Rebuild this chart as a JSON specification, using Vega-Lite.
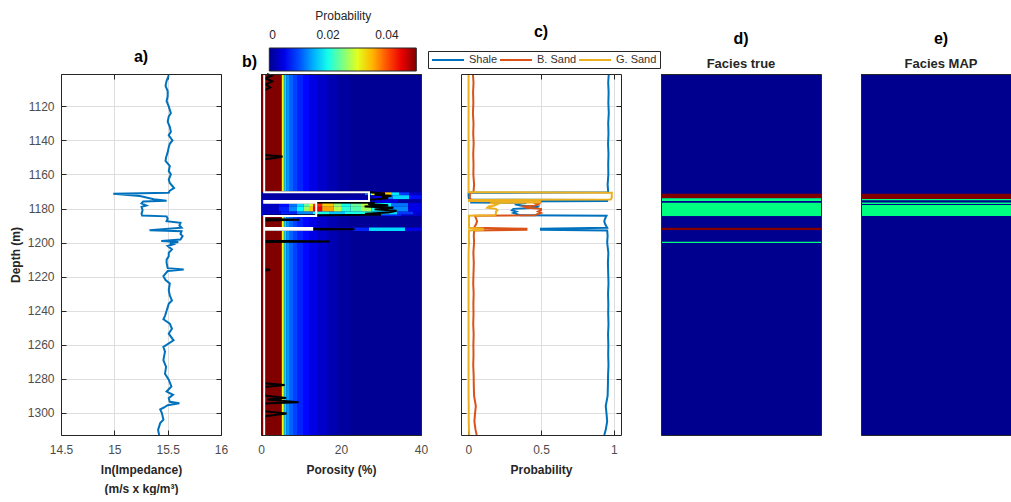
{
  "$schema": "https://vega.github.io/schema/vega-lite/v6.json",
  "padding": {"top": 10, "left": 8, "right": 0, "bottom": 0},
  "background": "white",
  "spacing": 40,
  "bounds": "flush",
  "config": {
    "font": "Liberation Sans",
    "view": {"stroke": "#262626", "strokeWidth": 1},
    "style": {"cell": {"strokeForeground": true}},
    "axis": {"labelFont": "Liberation Sans", "labelFontSize": 12, "labelColor": "#4d4d4d", "titleFont": "Liberation Sans", "titleFontSize": 12, "titleFontWeight": "bold", "titleColor": "#262626", "tickColor": "#262626", "tickSize": -5, "domain": false, "gridColor": "#dedede", "gridWidth": 1},
    "axisX": {"labelPadding": 14, "format": "~g"},
    "axisY": {"labelPadding": 12, "format": "d"},
    "title": {"font": "Liberation Sans", "fontSize": 16, "fontWeight": "bold", "color": "#000000", "subtitleFont": "Liberation Sans", "subtitleFontSize": 13, "subtitleFontWeight": "bold", "subtitleColor": "#262626", "frame": "group", "anchor": "middle"},
    "legend": {"labelFont": "Liberation Sans", "titleFont": "Liberation Sans"}
  },
  "resolve": {"scale": {"color": "independent"}, "legend": {"color": "independent"}},
  "datasets": {
    "imp": [
      {"depth":1101.8,"imp":15.51},{"depth":1105,"imp":15.49},{"depth":1108,"imp":15.48},{"depth":1111,"imp":15.5},{"depth":1114,"imp":15.5},{"depth":1117,"imp":15.49},{"depth":1120,"imp":15.51},{"depth":1122,"imp":15.52},{"depth":1124,"imp":15.53},{"depth":1126,"imp":15.51},{"depth":1129,"imp":15.5},{"depth":1132,"imp":15.52},{"depth":1135,"imp":15.53},{"depth":1137,"imp":15.51},{"depth":1140,"imp":15.545},{"depth":1142,"imp":15.52},{"depth":1144,"imp":15.51},{"depth":1147,"imp":15.5},{"depth":1150,"imp":15.485},{"depth":1152,"imp":15.48},{"depth":1155,"imp":15.52},{"depth":1158,"imp":15.51},{"depth":1160,"imp":15.53},{"depth":1163,"imp":15.51},{"depth":1165,"imp":15.52},{"depth":1168,"imp":15.56},{"depth":1169.5,"imp":15.52},{"depth":1170.7,"imp":15.51},{"depth":1171.3,"imp":14.99},{"depth":1172.6,"imp":15.24},{"depth":1174.5,"imp":15.37},{"depth":1175.5,"imp":15.49},{"depth":1175.9,"imp":15.27},{"depth":1177,"imp":15.255},{"depth":1178.2,"imp":15.3},{"depth":1179,"imp":15.255},{"depth":1181,"imp":15.265},{"depth":1183,"imp":15.255},{"depth":1184.1,"imp":15.26},{"depth":1184.6,"imp":15.49},{"depth":1186,"imp":15.5},{"depth":1187.4,"imp":15.49},{"depth":1188.4,"imp":15.62},{"depth":1190,"imp":15.61},{"depth":1191.3,"imp":15.63},{"depth":1192.7,"imp":15.33},{"depth":1193.3,"imp":15.63},{"depth":1195,"imp":15.62},{"depth":1196.2,"imp":15.64},{"depth":1198.2,"imp":15.62},{"depth":1199.1,"imp":15.44},{"depth":1199.7,"imp":15.6},{"depth":1200.5,"imp":15.52},{"depth":1201.1,"imp":15.55},{"depth":1202,"imp":15.5},{"depth":1204,"imp":15.54},{"depth":1206,"imp":15.51},{"depth":1208,"imp":15.51},{"depth":1210,"imp":15.49},{"depth":1212,"imp":15.49},{"depth":1215,"imp":15.5},{"depth":1215.8,"imp":15.65},{"depth":1216.7,"imp":15.5},{"depth":1219.7,"imp":15.46},{"depth":1222,"imp":15.48},{"depth":1224,"imp":15.52},{"depth":1228,"imp":15.51},{"depth":1231,"imp":15.52},{"depth":1234,"imp":15.54},{"depth":1236,"imp":15.51},{"depth":1240,"imp":15.49},{"depth":1243,"imp":15.475},{"depth":1245,"imp":15.46},{"depth":1247.6,"imp":15.52},{"depth":1250.6,"imp":15.54},{"depth":1253.5,"imp":15.51},{"depth":1257.4,"imp":15.555},{"depth":1261.3,"imp":15.46},{"depth":1264,"imp":15.475},{"depth":1269,"imp":15.46},{"depth":1273,"imp":15.485},{"depth":1277,"imp":15.475},{"depth":1280.5,"imp":15.51},{"depth":1284.5,"imp":15.535},{"depth":1287.5,"imp":15.49},{"depth":1289.4,"imp":15.55},{"depth":1291.4,"imp":15.51},{"depth":1293.5,"imp":15.52},{"depth":1294.3,"imp":15.61},{"depth":1295.5,"imp":15.5},{"depth":1297,"imp":15.46},{"depth":1298,"imp":15.43},{"depth":1300,"imp":15.445},{"depth":1304,"imp":15.46},{"depth":1306,"imp":15.43},{"depth":1310,"imp":15.41},{"depth":1313,"imp":15.42}
    ],
    "heat": [
      {"p0":0,"p1":5.2,"d0":1101,"d1":1170.5,"v":0.06},{"p0":5.2,"p1":5.5,"d0":1101,"d1":1170.5,"v":0.031},{"p0":5.5,"p1":5.9,"d0":1101,"d1":1170.5,"v":0.022},{"p0":5.9,"p1":6.4,"d0":1101,"d1":1170.5,"v":0.017},{"p0":6.4,"p1":7,"d0":1101,"d1":1170.5,"v":0.0135},{"p0":7,"p1":8,"d0":1101,"d1":1170.5,"v":0.0112},{"p0":8,"p1":9,"d0":1101,"d1":1170.5,"v":0.0095},{"p0":9,"p1":10.5,"d0":1101,"d1":1170.5,"v":0.008},{"p0":10.5,"p1":12,"d0":1101,"d1":1170.5,"v":0.0066},{"p0":12,"p1":14,"d0":1101,"d1":1170.5,"v":0.0048},{"p0":14,"p1":16.5,"d0":1101,"d1":1170.5,"v":0.0033},{"p0":16.5,"p1":19,"d0":1101,"d1":1170.5,"v":0.002},{"p0":19,"p1":22,"d0":1101,"d1":1170.5,"v":0.001},{"p0":22,"p1":40,"d0":1101,"d1":1170.5,"v":0.0003},
      {"p0":0,"p1":26,"d0":1170.5,"d1":1172.2,"v":0.001},{"p0":26,"p1":27.5,"d0":1170.5,"d1":1172.2,"v":0.012},{"p0":27.5,"p1":29,"d0":1170.5,"d1":1172.2,"v":0.03},{"p0":29,"p1":31,"d0":1170.5,"d1":1172.2,"v":0.045},{"p0":31,"p1":32.5,"d0":1170.5,"d1":1172.2,"v":0.034},{"p0":32.5,"p1":34.5,"d0":1170.5,"d1":1172.2,"v":0.018},{"p0":34.5,"p1":37,"d0":1170.5,"d1":1172.2,"v":0.009},{"p0":37,"p1":40,"d0":1170.5,"d1":1172.2,"v":0.003},
      {"p0":0,"p1":28,"d0":1172.2,"d1":1174.6,"v":0.0012},{"p0":28,"p1":30,"d0":1172.2,"d1":1174.6,"v":0.005},{"p0":30,"p1":33,"d0":1172.2,"d1":1174.6,"v":0.012},{"p0":33,"p1":37,"d0":1172.2,"d1":1174.6,"v":0.017},{"p0":37,"p1":40,"d0":1172.2,"d1":1174.6,"v":0.007},
      {"p0":0,"p1":5.2,"d0":1174.6,"d1":1176.8,"v":0.003},{"p0":5.2,"p1":20,"d0":1174.6,"d1":1176.8,"v":0.0015},{"p0":20,"p1":34,"d0":1174.6,"d1":1176.8,"v":0.004},{"p0":34,"p1":40,"d0":1174.6,"d1":1176.8,"v":0.001},
      {"p0":0,"p1":4.5,"d0":1176.8,"d1":1179,"v":0.003},{"p0":4.5,"p1":7,"d0":1176.8,"d1":1179,"v":0.007},{"p0":7,"p1":9,"d0":1176.8,"d1":1179,"v":0.012},{"p0":9,"p1":10.7,"d0":1176.8,"d1":1179,"v":0.017},{"p0":10.7,"p1":12,"d0":1176.8,"d1":1179,"v":0.024},{"p0":12,"p1":13,"d0":1176.8,"d1":1179,"v":0.03},{"p0":13,"p1":15.3,"d0":1176.8,"d1":1179,"v":0.042},{"p0":15.3,"p1":18.2,"d0":1176.8,"d1":1179,"v":0.034},{"p0":18.2,"p1":20,"d0":1176.8,"d1":1179,"v":0.026},{"p0":20,"p1":22.4,"d0":1176.8,"d1":1179,"v":0.02},{"p0":22.4,"p1":25,"d0":1176.8,"d1":1179,"v":0.024},{"p0":25,"p1":27.6,"d0":1176.8,"d1":1179,"v":0.028},{"p0":27.6,"p1":32.6,"d0":1176.8,"d1":1179,"v":0.019},{"p0":32.6,"p1":36.8,"d0":1176.8,"d1":1179,"v":0.012},{"p0":36.8,"p1":40,"d0":1176.8,"d1":1179,"v":0.005},
      {"p0":0,"p1":4.5,"d0":1179,"d1":1181.8,"v":0.003},{"p0":4.5,"p1":7,"d0":1179,"d1":1181.8,"v":0.008},{"p0":7,"p1":9,"d0":1179,"d1":1181.8,"v":0.013},{"p0":9,"p1":10.7,"d0":1179,"d1":1181.8,"v":0.019},{"p0":10.7,"p1":12,"d0":1179,"d1":1181.8,"v":0.027},{"p0":12,"p1":13,"d0":1179,"d1":1181.8,"v":0.034},{"p0":13,"p1":15.3,"d0":1179,"d1":1181.8,"v":0.045},{"p0":15.3,"p1":18.2,"d0":1179,"d1":1181.8,"v":0.036},{"p0":18.2,"p1":20,"d0":1179,"d1":1181.8,"v":0.028},{"p0":20,"p1":22.4,"d0":1179,"d1":1181.8,"v":0.021},{"p0":22.4,"p1":25,"d0":1179,"d1":1181.8,"v":0.023},{"p0":25,"p1":27.6,"d0":1179,"d1":1181.8,"v":0.027},{"p0":27.6,"p1":32.6,"d0":1179,"d1":1181.8,"v":0.02},{"p0":32.6,"p1":36.8,"d0":1179,"d1":1181.8,"v":0.013},{"p0":36.8,"p1":40,"d0":1179,"d1":1181.8,"v":0.005},
      {"p0":0,"p1":5,"d0":1181.8,"d1":1183.6,"v":0.003},{"p0":5,"p1":9,"d0":1181.8,"d1":1183.6,"v":0.008},{"p0":9,"p1":13,"d0":1181.8,"d1":1183.6,"v":0.013},{"p0":13,"p1":17,"d0":1181.8,"d1":1183.6,"v":0.02},{"p0":17,"p1":21,"d0":1181.8,"d1":1183.6,"v":0.016},{"p0":21,"p1":28,"d0":1181.8,"d1":1183.6,"v":0.02},{"p0":28,"p1":34,"d0":1181.8,"d1":1183.6,"v":0.017},{"p0":34,"p1":38,"d0":1181.8,"d1":1183.6,"v":0.009},{"p0":38,"p1":40,"d0":1181.8,"d1":1183.6,"v":0.004},
      {"p0":0,"p1":10,"d0":1183.6,"d1":1184.6,"v":0.007},{"p0":10,"p1":25,"d0":1183.6,"d1":1184.6,"v":0.01},{"p0":25,"p1":35,"d0":1183.6,"d1":1184.6,"v":0.008},{"p0":35,"p1":40,"d0":1183.6,"d1":1184.6,"v":0.003},
      {"p0":0,"p1":5.2,"d0":1184.6,"d1":1191.2,"v":0.06},{"p0":5.2,"p1":5.5,"d0":1184.6,"d1":1191.2,"v":0.031},{"p0":5.5,"p1":5.9,"d0":1184.6,"d1":1191.2,"v":0.022},{"p0":5.9,"p1":6.4,"d0":1184.6,"d1":1191.2,"v":0.017},{"p0":6.4,"p1":7,"d0":1184.6,"d1":1191.2,"v":0.0135},{"p0":7,"p1":8,"d0":1184.6,"d1":1191.2,"v":0.0112},{"p0":8,"p1":9,"d0":1184.6,"d1":1191.2,"v":0.0095},{"p0":9,"p1":10.5,"d0":1184.6,"d1":1191.2,"v":0.008},{"p0":10.5,"p1":12,"d0":1184.6,"d1":1191.2,"v":0.0066},{"p0":12,"p1":14,"d0":1184.6,"d1":1191.2,"v":0.0048},{"p0":14,"p1":16.5,"d0":1184.6,"d1":1191.2,"v":0.0033},{"p0":16.5,"p1":19,"d0":1184.6,"d1":1191.2,"v":0.002},{"p0":19,"p1":22,"d0":1184.6,"d1":1191.2,"v":0.001},{"p0":22,"p1":40,"d0":1184.6,"d1":1191.2,"v":0.0003},
      {"p0":0,"p1":5.2,"d0":1191.2,"d1":1193.2,"v":0.06},{"p0":5.2,"p1":6,"d0":1191.2,"d1":1193.2,"v":0.022},{"p0":6,"p1":9,"d0":1191.2,"d1":1193.2,"v":0.012},{"p0":9,"p1":14,"d0":1191.2,"d1":1193.2,"v":0.007},{"p0":14,"p1":23,"d0":1191.2,"d1":1193.2,"v":0.003},{"p0":23,"p1":27,"d0":1191.2,"d1":1193.2,"v":0.008},{"p0":27,"p1":36,"d0":1191.2,"d1":1193.2,"v":0.017},{"p0":36,"p1":40,"d0":1191.2,"d1":1193.2,"v":0.005},
      {"p0":0,"p1":5.2,"d0":1193.2,"d1":1313,"v":0.06},{"p0":5.2,"p1":5.5,"d0":1193.2,"d1":1313,"v":0.031},{"p0":5.5,"p1":5.9,"d0":1193.2,"d1":1313,"v":0.022},{"p0":5.9,"p1":6.4,"d0":1193.2,"d1":1313,"v":0.017},{"p0":6.4,"p1":7,"d0":1193.2,"d1":1313,"v":0.0135},{"p0":7,"p1":8,"d0":1193.2,"d1":1313,"v":0.0112},{"p0":8,"p1":9,"d0":1193.2,"d1":1313,"v":0.0095},{"p0":9,"p1":10.5,"d0":1193.2,"d1":1313,"v":0.008},{"p0":10.5,"p1":12,"d0":1193.2,"d1":1313,"v":0.0066},{"p0":12,"p1":14,"d0":1193.2,"d1":1313,"v":0.0048},{"p0":14,"p1":16.5,"d0":1193.2,"d1":1313,"v":0.0033},{"p0":16.5,"p1":19,"d0":1193.2,"d1":1313,"v":0.002},{"p0":19,"p1":22,"d0":1193.2,"d1":1313,"v":0.001},{"p0":22,"p1":40,"d0":1193.2,"d1":1313,"v":0.0003}
    ],
    "black": [
      {"depth":1101,"por":1.5},{"depth":1102,"por":2.6},{"depth":1103.5,"por":1.0},{"depth":1105.3,"por":2.8},{"depth":1107.1,"por":1.2},{"depth":1108.8,"por":2.3},{"depth":1110.6,"por":0.8},{"depth":1148.6,"por":0.8},{"depth":1149.5,"por":5.4},{"depth":1150.3,"por":3.5},{"depth":1151,"por":0.8},{"depth":1170.2,"por":0.8},{"depth":1170.5,"por":26.8},{"depth":1171.2,"por":31},{"depth":1171.9,"por":28.4},{"depth":1172.5,"por":32.6},{"depth":1173.3,"por":30.1},{"depth":1173.9,"por":31.8},{"depth":1174.9,"por":27},{"depth":1175.6,"por":27},{"depth":1175.8,"por":0.8},{"depth":1176.3,"por":0.8},{"depth":1176.6,"por":28.4},{"depth":1177.3,"por":26.8},{"depth":1178.1,"por":31.8},{"depth":1178.8,"por":25.9},{"depth":1179.5,"por":33.1},{"depth":1180.5,"por":28.4},{"depth":1181.3,"por":33.9},{"depth":1182.4,"por":31.8},{"depth":1183,"por":26},{"depth":1183.6,"por":30},{"depth":1184.2,"por":0.8},{"depth":1186.2,"por":0.8},{"depth":1186.6,"por":9.6},{"depth":1187,"por":0.8},{"depth":1191.7,"por":0.8},{"depth":1192.1,"por":23.4},{"depth":1192.5,"por":0.8},{"depth":1198.9,"por":0.8},{"depth":1199.3,"por":17.1},{"depth":1199.7,"por":0.8},{"depth":1215.5,"por":0.8},{"depth":1216,"por":2.3},{"depth":1216.5,"por":0.8},{"depth":1282.6,"por":0.8},{"depth":1283.6,"por":5.9},{"depth":1284.8,"por":0.8},{"depth":1288.2,"por":0.8},{"depth":1290,"por":1.2},{"depth":1291.2,"por":6.3},{"depth":1292.2,"por":1.5},{"depth":1293.8,"por":9.4},{"depth":1294.5,"por":0.8},{"depth":1299,"por":0.8},{"depth":1300.4,"por":6.4},{"depth":1302,"por":1.0},{"depth":1304.9,"por":0.8},{"depth":1313,"por":0.8}
    ],
    "white": [
      {"i":1,"depth":1101,"por":0.8},{"i":2,"depth":1170.5,"por":0.8},{"i":3,"depth":1170.5,"por":27},{"i":4,"depth":1175.6,"por":27},{"i":5,"depth":1175.6,"por":0.8},{"i":6,"depth":1176.6,"por":0.8},{"i":7,"depth":1176.6,"por":13.8},{"i":8,"depth":1184.4,"por":13.8},{"i":9,"depth":1184.4,"por":0.8},{"i":10,"depth":1191.4,"por":0.8},{"i":11,"depth":1191.4,"por":12.8},{"i":12,"depth":1192.4,"por":12.8},{"i":13,"depth":1192.4,"por":0.8},{"i":14,"depth":1313,"por":0.8}
    ],
    "prob": [
      {"d":1101,"f":"Shale","p":0.966},{"d":1101,"f":"B. Sand","p":0.032},{"d":1101,"f":"G. Sand","p":0.002},
      {"d":1106,"f":"Shale","p":0.962},{"d":1106,"f":"B. Sand","p":0.036},{"d":1106,"f":"G. Sand","p":0.002},
      {"d":1112,"f":"Shale","p":0.965},{"d":1112,"f":"B. Sand","p":0.033},{"d":1112,"f":"G. Sand","p":0.002},
      {"d":1118,"f":"Shale","p":0.963},{"d":1118,"f":"B. Sand","p":0.035},{"d":1118,"f":"G. Sand","p":0.002},
      {"d":1124,"f":"Shale","p":0.966},{"d":1124,"f":"B. Sand","p":0.032},{"d":1124,"f":"G. Sand","p":0.002},
      {"d":1130,"f":"Shale","p":0.962},{"d":1130,"f":"B. Sand","p":0.036},{"d":1130,"f":"G. Sand","p":0.002},
      {"d":1136,"f":"Shale","p":0.964},{"d":1136,"f":"B. Sand","p":0.034},{"d":1136,"f":"G. Sand","p":0.002},
      {"d":1142,"f":"Shale","p":0.961},{"d":1142,"f":"B. Sand","p":0.037},{"d":1142,"f":"G. Sand","p":0.002},
      {"d":1148,"f":"Shale","p":0.964},{"d":1148,"f":"B. Sand","p":0.034},{"d":1148,"f":"G. Sand","p":0.002},
      {"d":1154,"f":"Shale","p":0.962},{"d":1154,"f":"B. Sand","p":0.036},{"d":1154,"f":"G. Sand","p":0.002},
      {"d":1160,"f":"Shale","p":0.963},{"d":1160,"f":"B. Sand","p":0.035},{"d":1160,"f":"G. Sand","p":0.002},
      {"d":1166,"f":"Shale","p":0.958},{"d":1166,"f":"B. Sand","p":0.04},{"d":1166,"f":"G. Sand","p":0.002},
      {"d":1170.4,"f":"Shale","p":0.962},{"d":1170.4,"f":"B. Sand","p":0.036},{"d":1170.4,"f":"G. Sand","p":0.002},
      {"d":1170.8,"f":"Shale","p":0.003},{"d":1170.8,"f":"B. Sand","p":0.01},{"d":1170.8,"f":"G. Sand","p":0.987},
      {"d":1172,"f":"Shale","p":0.002},{"d":1172,"f":"B. Sand","p":0.012},{"d":1172,"f":"G. Sand","p":0.986},
      {"d":1173.5,"f":"Shale","p":0.003},{"d":1173.5,"f":"B. Sand","p":0.01},{"d":1173.5,"f":"G. Sand","p":0.987},
      {"d":1174.7,"f":"Shale","p":0.005},{"d":1174.7,"f":"B. Sand","p":0.015},{"d":1174.7,"f":"G. Sand","p":0.98},
      {"d":1175,"f":"Shale","p":0.955},{"d":1175,"f":"B. Sand","p":0.04},{"d":1175,"f":"G. Sand","p":0.005},
      {"d":1175.6,"f":"Shale","p":0.955},{"d":1175.6,"f":"B. Sand","p":0.04},{"d":1175.6,"f":"G. Sand","p":0.005},
      {"d":1175.9,"f":"Shale","p":0.02},{"d":1175.9,"f":"B. Sand","p":0.48},{"d":1175.9,"f":"G. Sand","p":0.5},
      {"d":1176.4,"f":"Shale","p":0.02},{"d":1176.4,"f":"B. Sand","p":0.5},{"d":1176.4,"f":"G. Sand","p":0.48},
      {"d":1176.8,"f":"Shale","p":0.4},{"d":1176.8,"f":"B. Sand","p":0.45},{"d":1176.8,"f":"G. Sand","p":0.15},
      {"d":1177.5,"f":"Shale","p":0.32},{"d":1177.5,"f":"B. Sand","p":0.48},{"d":1177.5,"f":"G. Sand","p":0.2},
      {"d":1178.3,"f":"Shale","p":0.36},{"d":1178.3,"f":"B. Sand","p":0.46},{"d":1178.3,"f":"G. Sand","p":0.18},
      {"d":1178.8,"f":"Shale","p":0.48},{"d":1178.8,"f":"B. Sand","p":0.38},{"d":1178.8,"f":"G. Sand","p":0.14},
      {"d":1179.6,"f":"Shale","p":0.47},{"d":1179.6,"f":"B. Sand","p":0.4},{"d":1179.6,"f":"G. Sand","p":0.13},
      {"d":1180.2,"f":"Shale","p":0.31},{"d":1180.2,"f":"B. Sand","p":0.5},{"d":1180.2,"f":"G. Sand","p":0.19},
      {"d":1181,"f":"Shale","p":0.3},{"d":1181,"f":"B. Sand","p":0.5},{"d":1181,"f":"G. Sand","p":0.2},
      {"d":1181.8,"f":"Shale","p":0.33},{"d":1181.8,"f":"B. Sand","p":0.48},{"d":1181.8,"f":"G. Sand","p":0.19},
      {"d":1182.6,"f":"Shale","p":0.31},{"d":1182.6,"f":"B. Sand","p":0.5},{"d":1182.6,"f":"G. Sand","p":0.19},
      {"d":1183.5,"f":"Shale","p":0.34},{"d":1183.5,"f":"B. Sand","p":0.47},{"d":1183.5,"f":"G. Sand","p":0.19},
      {"d":1184,"f":"Shale","p":0.36},{"d":1184,"f":"B. Sand","p":0.46},{"d":1184,"f":"G. Sand","p":0.18},
      {"d":1184.3,"f":"Shale","p":0.95},{"d":1184.3,"f":"B. Sand","p":0.045},{"d":1184.3,"f":"G. Sand","p":0.005},
      {"d":1186,"f":"Shale","p":0.94},{"d":1186,"f":"B. Sand","p":0.055},{"d":1186,"f":"G. Sand","p":0.005},
      {"d":1187.5,"f":"Shale","p":0.935},{"d":1187.5,"f":"B. Sand","p":0.06},{"d":1187.5,"f":"G. Sand","p":0.005},
      {"d":1189,"f":"Shale","p":0.94},{"d":1189,"f":"B. Sand","p":0.055},{"d":1189,"f":"G. Sand","p":0.005},
      {"d":1191.3,"f":"Shale","p":0.955},{"d":1191.3,"f":"B. Sand","p":0.04},{"d":1191.3,"f":"G. Sand","p":0.005},
      {"d":1191.9,"f":"Shale","p":0.5},{"d":1191.9,"f":"B. Sand","p":0.4},{"d":1191.9,"f":"G. Sand","p":0.1},
      {"d":1192.5,"f":"Shale","p":0.5},{"d":1192.5,"f":"B. Sand","p":0.4},{"d":1192.5,"f":"G. Sand","p":0.1},
      {"d":1192.9,"f":"Shale","p":0.955},{"d":1192.9,"f":"B. Sand","p":0.04},{"d":1192.9,"f":"G. Sand","p":0.005},
      {"d":1196,"f":"Shale","p":0.958},{"d":1196,"f":"B. Sand","p":0.038},{"d":1196,"f":"G. Sand","p":0.004},
      {"d":1200,"f":"Shale","p":0.955},{"d":1200,"f":"B. Sand","p":0.04},{"d":1200,"f":"G. Sand","p":0.005},
      {"d":1206,"f":"Shale","p":0.963},{"d":1206,"f":"B. Sand","p":0.035},{"d":1206,"f":"G. Sand","p":0.002},
      {"d":1212,"f":"Shale","p":0.96},{"d":1212,"f":"B. Sand","p":0.038},{"d":1212,"f":"G. Sand","p":0.002},
      {"d":1218,"f":"Shale","p":0.962},{"d":1218,"f":"B. Sand","p":0.036},{"d":1218,"f":"G. Sand","p":0.002},
      {"d":1224,"f":"Shale","p":0.964},{"d":1224,"f":"B. Sand","p":0.034},{"d":1224,"f":"G. Sand","p":0.002},
      {"d":1230,"f":"Shale","p":0.961},{"d":1230,"f":"B. Sand","p":0.037},{"d":1230,"f":"G. Sand","p":0.002},
      {"d":1236,"f":"Shale","p":0.963},{"d":1236,"f":"B. Sand","p":0.035},{"d":1236,"f":"G. Sand","p":0.002},
      {"d":1242,"f":"Shale","p":0.962},{"d":1242,"f":"B. Sand","p":0.036},{"d":1242,"f":"G. Sand","p":0.002},
      {"d":1248,"f":"Shale","p":0.964},{"d":1248,"f":"B. Sand","p":0.034},{"d":1248,"f":"G. Sand","p":0.002},
      {"d":1254,"f":"Shale","p":0.961},{"d":1254,"f":"B. Sand","p":0.037},{"d":1254,"f":"G. Sand","p":0.002},
      {"d":1260,"f":"Shale","p":0.963},{"d":1260,"f":"B. Sand","p":0.035},{"d":1260,"f":"G. Sand","p":0.002},
      {"d":1266,"f":"Shale","p":0.962},{"d":1266,"f":"B. Sand","p":0.036},{"d":1266,"f":"G. Sand","p":0.002},
      {"d":1272,"f":"Shale","p":0.964},{"d":1272,"f":"B. Sand","p":0.034},{"d":1272,"f":"G. Sand","p":0.002},
      {"d":1278,"f":"Shale","p":0.961},{"d":1278,"f":"B. Sand","p":0.037},{"d":1278,"f":"G. Sand","p":0.002},
      {"d":1284,"f":"Shale","p":0.96},{"d":1284,"f":"B. Sand","p":0.038},{"d":1284,"f":"G. Sand","p":0.002},
      {"d":1290,"f":"Shale","p":0.958},{"d":1290,"f":"B. Sand","p":0.04},{"d":1290,"f":"G. Sand","p":0.002},
      {"d":1296,"f":"Shale","p":0.945},{"d":1296,"f":"B. Sand","p":0.052},{"d":1296,"f":"G. Sand","p":0.003},
      {"d":1300,"f":"Shale","p":0.95},{"d":1300,"f":"B. Sand","p":0.047},{"d":1300,"f":"G. Sand","p":0.003},
      {"d":1305,"f":"Shale","p":0.955},{"d":1305,"f":"B. Sand","p":0.042},{"d":1305,"f":"G. Sand","p":0.003},
      {"d":1310,"f":"Shale","p":0.945},{"d":1310,"f":"B. Sand","p":0.05},{"d":1310,"f":"G. Sand","p":0.005},
      {"d":1313,"f":"Shale","p":0.935},{"d":1313,"f":"B. Sand","p":0.058},{"d":1313,"f":"G. Sand","p":0.007}
    ],
    "ftrue": [
      {"d0":1101,"d1":1171.3,"f":"Shale"},{"d0":1171.3,"d1":1174.0,"f":"G. Sand"},{"d0":1174.0,"d1":1175.6,"f":"B. Sand"},{"d0":1175.6,"d1":1176.6,"f":"Shale"},{"d0":1176.6,"d1":1184.5,"f":"B. Sand"},{"d0":1184.5,"d1":1191.3,"f":"Shale"},{"d0":1191.3,"d1":1192.7,"f":"G. Sand"},{"d0":1192.7,"d1":1199.5,"f":"Shale"},{"d0":1199.5,"d1":1200.3,"f":"B. Sand"},{"d0":1200.3,"d1":1313,"f":"Shale"}
    ],
    "fmap": [
      {"d0":1101,"d1":1171.3,"f":"Shale"},{"d0":1171.3,"d1":1174.4,"f":"G. Sand"},{"d0":1174.4,"d1":1175.3,"f":"B. Sand"},{"d0":1175.3,"d1":1176.4,"f":"Shale"},{"d0":1176.4,"d1":1177.3,"f":"B. Sand"},{"d0":1177.3,"d1":1177.9,"f":"Shale"},{"d0":1177.9,"d1":1184.4,"f":"B. Sand"},{"d0":1184.4,"d1":1313,"f":"Shale"}
    ]
  },
  "hconcat": [
    {
      "width": 160, "height": 361,
      "title": {"text": "a)", "offset": 6},
      "data": {"name": "imp"},
      "resolve": {"axis": {"x": "independent", "y": "independent"}},
      "layer": [
        {
          "mark": {"type": "line", "color": "#0072BD", "strokeWidth": 2},
          "encoding": {
            "x": {"field": "imp", "type": "quantitative", "scale": {"domain": [14.5, 16], "nice": false, "zero": false}, "axis": {"orient": "bottom", "values": [14.5, 15, 15.5, 16], "grid": true, "labelFlush": false, "title": ["ln(Impedance)", "(m/s x kg/m³)"], "titlePadding": 9, "titleLineHeight": 19}},
            "y": {"field": "depth", "type": "quantitative", "scale": {"domain": [1101, 1313], "reverse": true, "nice": false, "zero": false}, "axis": {"orient": "left", "values": [1120, 1140, 1160, 1180, 1200, 1220, 1240, 1260, 1280, 1300], "grid": true, "title": "Depth (m)", "titlePadding": 5}},
            "order": {"field": "depth"}
          }
        },
        {
          "mark": {"type": "point", "opacity": 0},
          "encoding": {
            "x": {"field": "imp", "type": "quantitative", "scale": {"domain": [14.5, 16], "nice": false, "zero": false}, "axis": {"orient": "top", "values": [14.5, 15, 15.5, 16], "grid": false, "labels": false, "title": null}},
            "y": {"field": "depth", "type": "quantitative", "scale": {"domain": [1101, 1313], "reverse": true, "nice": false, "zero": false}, "axis": {"orient": "right", "values": [1120, 1140, 1160, 1180, 1200, 1220, 1240, 1260, 1280, 1300], "grid": false, "labels": false, "title": null}}
          }
        }
      ]
    },
    {
      "width": 160, "height": 361,
      "view": {"fill": "#00008F", "stroke": "#262626"},
      "title": {"text": "b)", "anchor": "start", "dx": -19, "offset": -59},
      "resolve": {"axis": {"x": "independent", "y": "independent"}},
      "layer": [
        {
          "data": {"name": "heat"},
          "mark": {"type": "rect"},
          "encoding": {
            "x": {"field": "p0", "type": "quantitative", "scale": {"domain": [0, 40], "nice": false, "zero": false}, "axis": {"orient": "bottom", "values": [0, 20, 40], "format": "d", "grid": false, "labelFlush": false, "title": "Porosity (%)", "titlePadding": 9}},
            "x2": {"field": "p1"},
            "y": {"field": "d0", "type": "quantitative", "scale": {"domain": [1101, 1313], "reverse": true, "nice": false, "zero": false}, "axis": {"orient": "left", "values": [1120, 1140, 1160, 1180, 1200, 1220, 1240, 1260, 1280, 1300], "grid": false, "labels": false, "title": null}},
            "y2": {"field": "d1"},
            "color": {"field": "v", "type": "quantitative", "scale": {"domain": [0, 0.0063, 0.0189, 0.0314, 0.044, 0.05], "range": ["#00008F", "#0000FF", "#00FFFF", "#FFFF00", "#FF0000", "#800000"], "clamp": true, "interpolate": "rgb"},
              "legend": {"orient": "none", "legendX": 8.3, "legendY": -63, "direction": "horizontal", "gradientLength": 147, "gradientThickness": 23, "title": "Probability", "titleFontWeight": "normal", "titleFontSize": 12, "titleColor": "#262626", "titleAnchor": "middle", "titlePadding": 25, "values": [0, 0.02, 0.04], "format": "~g", "labelOffset": -41, "labelAlign": "center", "labelFontSize": 12, "labelColor": "#262626", "gradientStrokeColor": "#262626", "gradientStrokeWidth": 1}}
          }
        },
        {
          "data": {"name": "black"},
          "mark": {"type": "line", "color": "#000000", "strokeWidth": 2},
          "encoding": {
            "x": {"field": "por", "type": "quantitative", "scale": {"domain": [0, 40], "nice": false, "zero": false}, "axis": null},
            "y": {"field": "depth", "type": "quantitative", "scale": {"domain": [1101, 1313], "reverse": true, "nice": false, "zero": false}, "axis": null},
            "order": {"field": "depth"}
          }
        },
        {
          "data": {"name": "white"},
          "mark": {"type": "line", "color": "#ffffff", "strokeWidth": 2},
          "encoding": {
            "x": {"field": "por", "type": "quantitative", "scale": {"domain": [0, 40], "nice": false, "zero": false}, "axis": null},
            "y": {"field": "depth", "type": "quantitative", "scale": {"domain": [1101, 1313], "reverse": true, "nice": false, "zero": false}, "axis": null},
            "order": {"field": "i"}
          }
        },
        {
          "data": {"name": "white"},
          "mark": {"type": "point", "opacity": 0},
          "encoding": {
            "x": {"field": "por", "type": "quantitative", "scale": {"domain": [0, 40], "nice": false, "zero": false}, "axis": {"orient": "top", "values": [0, 20, 40], "grid": false, "labels": false, "title": null}},
            "y": {"field": "depth", "type": "quantitative", "scale": {"domain": [1101, 1313], "reverse": true, "nice": false, "zero": false}, "axis": {"orient": "right", "values": [1120, 1140, 1160, 1180, 1200, 1220, 1240, 1260, 1280, 1300], "grid": false, "labels": false, "title": null}}
          }
        }
      ]
    },
    {
      "width": 160, "height": 361,
      "title": {"text": "c)", "offset": 11},
      "data": {"name": "prob"},
      "resolve": {"axis": {"x": "independent", "y": "independent"}},
      "layer": [
        {
          "mark": {"type": "line", "strokeWidth": 2},
          "encoding": {
            "x": {"field": "p", "type": "quantitative", "scale": {"domain": [-0.05, 1.05], "nice": false, "zero": false}, "axis": {"orient": "bottom", "values": [0, 0.5, 1], "grid": true, "labelFlush": false, "title": "Probability", "titlePadding": 9}},
            "y": {"field": "d", "type": "quantitative", "scale": {"domain": [1101, 1313], "reverse": true, "nice": false, "zero": false}, "axis": {"orient": "left", "values": [1120, 1140, 1160, 1180, 1200, 1220, 1240, 1260, 1280, 1300], "grid": true, "labels": false, "title": null}},
            "color": {"field": "f", "type": "nominal", "scale": {"domain": ["Shale", "B. Sand", "G. Sand"], "range": ["#0072BD", "#D95319", "#EDB120"]},
              "legend": {"orient": "none", "legendX": -33, "legendY": -23, "direction": "horizontal", "title": null, "symbolType": "M-3.2,0H3.2", "symbolSize": 100, "symbolStrokeWidth": 2, "symbolOffset": 11, "labelFontSize": 11, "labelColor": "#333333", "labelOffset": 15, "strokeColor": "#262626", "fillColor": "#ffffff", "padding": 3, "columnPadding": -2}},
            "order": {"field": "d"}
          }
        },
        {
          "mark": {"type": "point", "opacity": 0},
          "encoding": {
            "x": {"field": "p", "type": "quantitative", "scale": {"domain": [-0.05, 1.05], "nice": false, "zero": false}, "axis": {"orient": "top", "values": [0, 0.5, 1], "grid": false, "labels": false, "title": null}},
            "y": {"field": "d", "type": "quantitative", "scale": {"domain": [1101, 1313], "reverse": true, "nice": false, "zero": false}, "axis": {"orient": "right", "values": [1120, 1140, 1160, 1180, 1200, 1220, 1240, 1260, 1280, 1300], "grid": false, "labels": false, "title": null}}
          }
        }
      ]
    },
    {
      "width": 160, "height": 361,
      "view": {"fill": "#00008F", "stroke": "#262626"},
      "title": {"text": "d)", "subtitle": "Facies true", "offset": 3, "subtitlePadding": 11},
      "data": {"name": "ftrue"},
      "resolve": {"axis": {"y": "independent"}},
      "layer": [
        {
          "mark": {"type": "rect"},
          "encoding": {
            "x": {"datum": 0, "type": "quantitative", "scale": {"domain": [0, 1], "nice": false, "zero": false}, "axis": null},
            "x2": {"datum": 1},
            "y": {"field": "d0", "type": "quantitative", "scale": {"domain": [1101, 1313], "reverse": true, "nice": false, "zero": false}, "axis": {"orient": "left", "values": [1120, 1140, 1160, 1180, 1200, 1220, 1240, 1260, 1280, 1300], "grid": false, "labels": false, "title": null}},
            "y2": {"field": "d1"},
            "color": {"field": "f", "type": "nominal", "scale": {"domain": ["Shale", "B. Sand", "G. Sand"], "range": ["#00008F", "#00FF80", "#800000"]}, "legend": null}
          }
        },
        {
          "mark": {"type": "rect", "opacity": 0},
          "encoding": {
            "x": {"datum": 0, "type": "quantitative", "scale": {"domain": [0, 1], "nice": false, "zero": false}, "axis": null},
            "x2": {"datum": 1},
            "y": {"field": "d0", "type": "quantitative", "scale": {"domain": [1101, 1313], "reverse": true, "nice": false, "zero": false}, "axis": {"orient": "right", "values": [1120, 1140, 1160, 1180, 1200, 1220, 1240, 1260, 1280, 1300], "grid": false, "labels": false, "title": null}},
            "y2": {"field": "d1"}
          }
        }
      ]
    },
    {
      "width": 160, "height": 361,
      "view": {"fill": "#00008F", "stroke": "#262626"},
      "title": {"text": "e)", "subtitle": "Facies MAP", "offset": 3, "subtitlePadding": 11},
      "data": {"name": "fmap"},
      "resolve": {"axis": {"y": "independent"}},
      "layer": [
        {
          "mark": {"type": "rect"},
          "encoding": {
            "x": {"datum": 0, "type": "quantitative", "scale": {"domain": [0, 1], "nice": false, "zero": false}, "axis": null},
            "x2": {"datum": 1},
            "y": {"field": "d0", "type": "quantitative", "scale": {"domain": [1101, 1313], "reverse": true, "nice": false, "zero": false}, "axis": {"orient": "left", "values": [1120, 1140, 1160, 1180, 1200, 1220, 1240, 1260, 1280, 1300], "grid": false, "labels": false, "title": null}},
            "y2": {"field": "d1"},
            "color": {"field": "f", "type": "nominal", "scale": {"domain": ["Shale", "B. Sand", "G. Sand"], "range": ["#00008F", "#00FF80", "#800000"]}, "legend": null}
          }
        },
        {
          "mark": {"type": "rect", "opacity": 0},
          "encoding": {
            "x": {"datum": 0, "type": "quantitative", "scale": {"domain": [0, 1], "nice": false, "zero": false}, "axis": null},
            "x2": {"datum": 1},
            "y": {"field": "d0", "type": "quantitative", "scale": {"domain": [1101, 1313], "reverse": true, "nice": false, "zero": false}, "axis": {"orient": "right", "values": [1120, 1140, 1160, 1180, 1200, 1220, 1240, 1260, 1280, 1300], "grid": false, "labels": false, "title": null}},
            "y2": {"field": "d1"}
          }
        }
      ]
    }
  ]
}
